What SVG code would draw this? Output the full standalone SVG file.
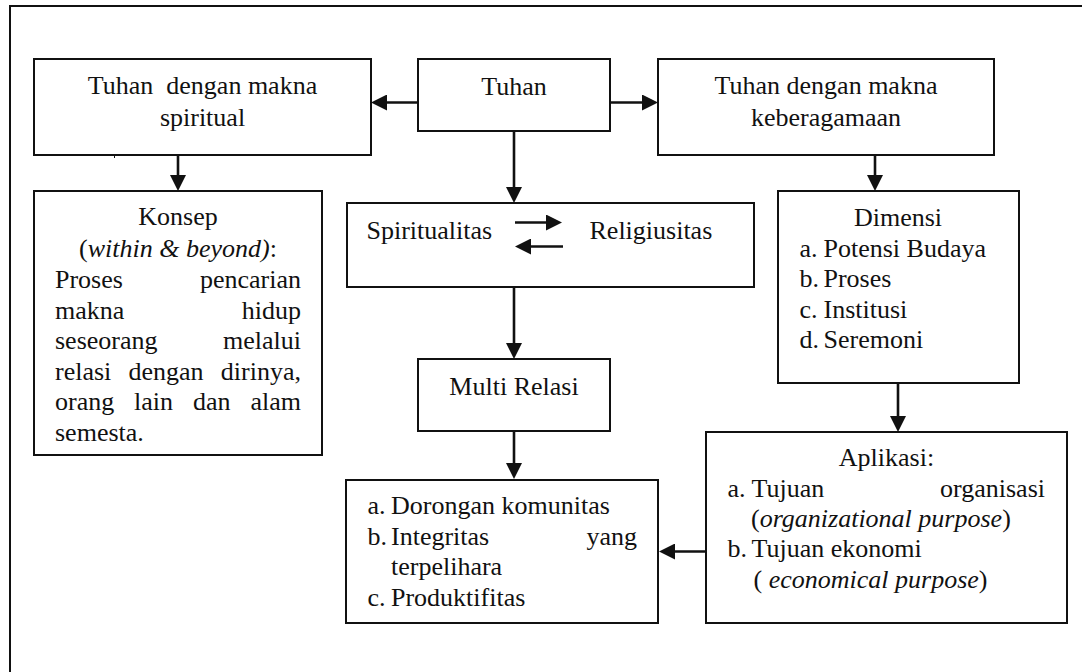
<svg xmlns="http://www.w3.org/2000/svg" width="1082" height="672" viewBox="0 0 1082 672">
<style>
  .box { fill: #fff; stroke: #111; stroke-width: 2; }
  text { font-family: 'Liberation Serif', 'DejaVu Serif', serif; font-size: 26px; fill: #111; }
  .c { text-anchor: middle; }
  .e { text-anchor: end; }
  .i { font-style: italic; }
  .ln { stroke: #111; stroke-width: 2.6; fill: none; marker-end: url(#ah); }
</style>
<defs>
  <marker id="ah" viewBox="0 0 16 16" refX="8" refY="8" markerWidth="16" markerHeight="16" markerUnits="userSpaceOnUse" orient="auto">
    <path d="M0,0 L16,8 L0,16 z" fill="#111"/>
  </marker>
</defs>
<rect width="1082" height="672" fill="#fff"/>
<path d="M10,672 V6 H1082" fill="none" stroke="#111" stroke-width="2"/>

<g id="tuhan">
  <rect class="box" x="418" y="59" width="192" height="72"/>
  <text class="c" x="514" y="95">Tuhan</text>
</g>

<g id="spiritual">
  <rect class="box" x="34" y="59" width="337" height="96"/>
  <text class="c" x="202.5" y="94" style="white-space:pre">Tuhan  dengan makna</text>
  <text class="c" x="202.5" y="126">spiritual</text>
</g>

<g id="keberagamaan">
  <rect class="box" x="658" y="59" width="336" height="96"/>
  <text class="c" x="826" y="94">Tuhan dengan makna</text>
  <text class="c" x="826" y="126">keberagamaan</text>
</g>

<g id="konsep">
  <rect class="box" x="34" y="191" width="288" height="264"/>
  <text class="c" x="178" y="225">Konsep</text>
  <text class="c" x="178" y="256.5">(<tspan class="i">within &amp; beyond)</tspan>:</text>
  <text x="55" y="288">Proses</text>
  <text class="e" x="301" y="288">pencarian</text>
  <text x="55" y="318.5">makna</text>
  <text class="e" x="301" y="318.5">hidup</text>
  <text x="55" y="349">seseorang</text>
  <text class="e" x="301" y="349">melalui</text>
  <text x="55" y="379.5">relasi</text>
  <text x="128.5" y="379.5">dengan</text>
  <text class="e" x="301" y="379.5">dirinya,</text>
  <text x="55" y="410">orang</text>
  <text x="134" y="410">lain</text>
  <text x="193" y="410">dan</text>
  <text class="e" x="301" y="410">alam</text>
  <text x="55" y="440.5">semesta.</text>
</g>

<g id="spiritualitas">
  <rect class="box" x="347" y="203" width="407" height="84"/>
  <text x="366.5" y="238.5">Spiritualitas</text>
  <text x="589.5" y="238.5">Religiusitas</text>
</g>

<g id="dimensi">
  <rect class="box" x="778" y="191" width="241" height="192"/>
  <text class="c" x="898" y="225.5">Dimensi</text>
  <text x="799.5" y="256.5">a.</text><text x="823.5" y="256.5">Potensi Budaya</text>
  <text x="799.5" y="287">b.</text><text x="823.5" y="287">Proses</text>
  <text x="799.5" y="317.5">c.</text><text x="823.5" y="317.5">Institusi</text>
  <text x="799.5" y="348">d.</text><text x="823.5" y="348">Seremoni</text>
</g>

<g id="multirelasi">
  <rect class="box" x="418" y="359" width="192" height="72"/>
  <text class="c" x="514" y="395">Multi Relasi</text>
</g>

<g id="hasil">
  <rect class="box" x="346" y="480" width="312" height="143"/>
  <text x="367.5" y="513.5">a.</text><text x="391" y="513.5">Dorongan komunitas</text>
  <text x="367.5" y="544.5">b.</text><text x="391" y="544.5">Integritas</text>
  <text class="e" x="637" y="544.5">yang</text>
  <text x="391" y="575">terpelihara</text>
  <text x="367.5" y="605.5">c.</text><text x="391" y="605.5">Produktifitas</text>
</g>

<g id="aplikasi">
  <rect class="box" x="706" y="432" width="361" height="191"/>
  <text class="c" x="886.5" y="466">Aplikasi:</text>
  <text x="727.5" y="497">a.</text><text x="751.5" y="497">Tujuan</text>
  <text class="e" x="1045" y="497">organisasi</text>
  <text x="751" y="527">(<tspan class="i">organizational purpose</tspan>)</text>
  <text x="727.5" y="557">b.</text><text x="751.5" y="557">Tujuan ekonomi</text>
  <text x="753.5" y="588" style="white-space:pre">( <tspan class="i">economical purpose</tspan>)</text>
</g>

<g id="connectors">
  <path class="ln" d="M418,102.5 H379"/>
  <path class="ln" d="M610,102.5 H650"/>
  <path class="ln" d="M514,131 V195"/>
  <path class="ln" d="M178,155 V183"/>
  <path class="ln" d="M875,155 V183"/>
  <path class="ln" d="M514,287 V351"/>
  <path class="ln" d="M514,431 V471"/>
  <path class="ln" d="M898,383 V424"/>
  <path class="ln" d="M706,551.5 H667"/>
  <path class="ln" d="M515,222.5 H554"/>
  <path class="ln" d="M563,246.5 H523"/>
  <path d="M114.5,156 V158" stroke="#111" stroke-width="1"/>
</g>
</svg>
